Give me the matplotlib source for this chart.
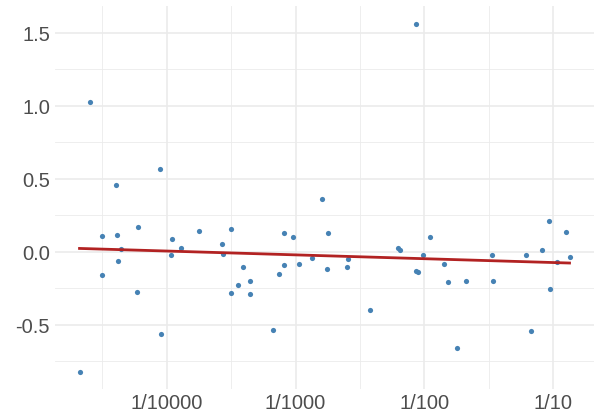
import numpy as np
import matplotlib.pyplot as plt
from matplotlib.ticker import FixedLocator, FixedFormatter

# proportion (log scale) and value for each observation
prop = [2.10e-5, 2.55e-5, 3.13e-5, 3.13e-5, 4.00e-5, 4.09e-5, 4.20e-5, 4.38e-5,
        5.83e-5, 5.93e-5, 8.87e-5, 8.97e-5, 1.07e-4, 1.10e-4, 1.29e-4, 1.77e-4,
        2.69e-4, 2.71e-4, 3.15e-4, 3.16e-4, 3.59e-4, 3.93e-4, 4.43e-4, 4.45e-4,
        6.73e-4, 7.41e-4, 8.20e-4, 8.20e-4, 9.55e-4, 1.07e-3, 1.33e-3, 1.61e-3,
        1.76e-3, 1.80e-3, 2.49e-3, 2.55e-3, 3.81e-3, 6.19e-3, 6.46e-3, 8.57e-3,
        8.67e-3, 8.87e-3, 9.70e-3, 1.11e-2, 1.43e-2, 1.53e-2, 1.80e-2, 2.10e-2,
        3.36e-2, 3.44e-2, 6.15e-2, 6.70e-2, 8.26e-2, 9.31e-2, 9.42e-2, 1.07e-1,
        1.25e-1, 1.34e-1]
value = [-0.822, 1.025, 0.107, -0.161, 0.458, 0.112, -0.062, 0.016,
         -0.273, 0.169, 0.568, -0.564, -0.019, 0.087, 0.028, 0.144,
         0.055, -0.012, 0.153, -0.285, -0.230, -0.101, -0.202, -0.287,
         -0.535, -0.154, 0.131, -0.094, 0.103, -0.085, -0.041, 0.362,
         -0.117, 0.128, -0.101, -0.048, -0.397, 0.025, 0.009, -0.129,
         1.560, -0.136, -0.021, 0.103, -0.083, -0.204, -0.656, -0.200,
         -0.019, -0.198, -0.021, -0.539, 0.014, 0.213, -0.257, -0.067,
         0.135, -0.037]

x_breaks = [1e-4, 1e-3, 1e-2, 1e-1]
x_labels = ["1/10000", "1/1000", "1/100", "1/10"]
y_breaks = [-0.5, 0.0, 0.5, 1.0, 1.5]

plt.rcParams['font.family'] = ['Liberation Sans', 'DejaVu Sans']
plt.rcParams['axes.unicode_minus'] = False

x = np.array(prop)
y = np.array(value)
lx = np.log10(x)

fig = plt.figure(figsize=(6.08, 4.14), dpi=100)
ax = fig.add_axes([0.0905, 0.0572, 0.8865, 0.9251])

ax.scatter(x, y, s=14, color="#4682B4", linewidths=0, zorder=3)

# linear fit on the log scale
slope, icpt = np.polyfit(lx, y, 1)
xs = np.linspace(lx.min(), lx.max(), 50)
ax.plot(10 ** xs, icpt + slope * xs, color="#B22222", lw=2, zorder=4)

ax.set_xscale("log")
span = lx.max() - lx.min()
ax.set_xlim(10 ** (lx.min() - 0.05 * span), 10 ** (lx.max() + 0.05 * span))
yspan = y.max() - y.min()
ax.set_ylim(y.min() - 0.05 * yspan, y.max() + 0.05 * yspan)

ax.xaxis.set_major_locator(FixedLocator(x_breaks))
ax.xaxis.set_major_formatter(FixedFormatter(x_labels))
ax.xaxis.set_minor_locator(FixedLocator([10 ** (np.log10(b) - 0.5) for b in x_breaks]))
ax.xaxis.set_minor_formatter(FixedFormatter([]))
ax.yaxis.set_major_locator(FixedLocator(y_breaks))
ax.yaxis.set_minor_locator(FixedLocator([b + 0.25 for b in [-1.0] + y_breaks]))

ax.grid(which="major", color="#EBEBEB", lw=1.2)
ax.grid(which="minor", color="#EBEBEB", lw=0.6)
ax.set_axisbelow(True)
for s in ax.spines.values():
    s.set_visible(False)
ax.tick_params(which="both", length=0, labelsize=14.5, labelcolor="#4D4D4D")
ax.tick_params(axis="x", pad=3)
ax.tick_params(axis="y", pad=3.6)

fig.savefig("out.png", dpi=100)
